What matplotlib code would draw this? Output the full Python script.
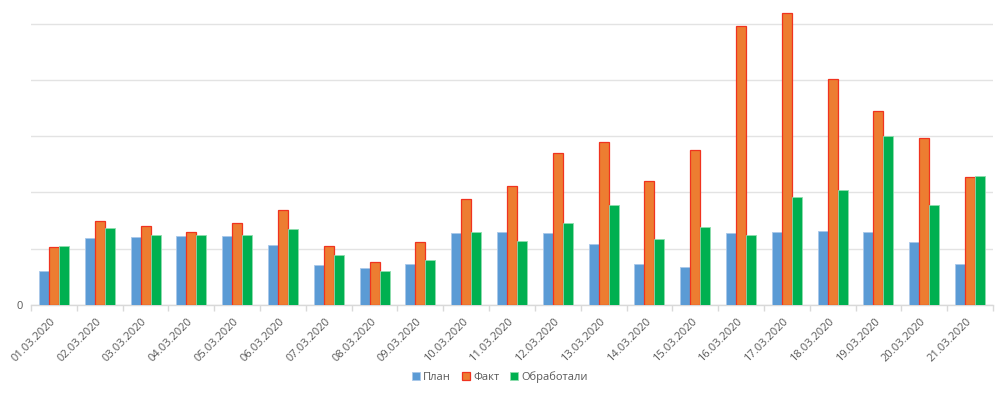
import matplotlib.pyplot as plt
import numpy as np

# Data (one gridline = 100 units)
dates = ['01.03.2020', '02.03.2020', '03.03.2020', '04.03.2020', '05.03.2020',
         '06.03.2020', '07.03.2020', '08.03.2020', '09.03.2020', '10.03.2020',
         '11.03.2020', '12.03.2020', '13.03.2020', '14.03.2020', '15.03.2020',
         '16.03.2020', '17.03.2020', '18.03.2020', '19.03.2020', '20.03.2020',
         '21.03.2020']
plan = [60, 118, 120, 122, 122, 106, 71, 65, 73, 127, 129, 127, 109, 73, 67,
        127, 129, 131, 129, 111, 73]
fact = [102, 150, 141, 130, 145, 168, 105, 76, 111, 189, 212, 270, 290, 220, 275,
        496, 519, 402, 345, 297, 227]
done = [105, 136, 125, 125, 125, 134, 89, 60, 80, 130, 114, 146, 178, 117, 138,
        125, 191, 205, 300, 178, 230]

plt.rcParams['font.family'] = ['Open Sans', 'DejaVu Sans']

fig = plt.figure(figsize=(10, 3.95), dpi=100)
ax = fig.add_axes([0.031, 0.2286, 0.962, 0.746])

x = np.arange(len(dates))
w = 0.218
ax.bar(x - w, plan, w, color='#5B9BD5', edgecolor='#A9C8EA', linewidth=0.6, label='План', zorder=3)
ax.bar(x, fact, w, color='#ED7D31', edgecolor='#F0331F', linewidth=0.9, label='Факт', zorder=3)
ax.bar(x + w, done, w, color='#00B050', edgecolor='#8FDDAE', linewidth=0.6, label='Обработали', zorder=3)

ax.set_xlim(-0.5, len(dates) - 0.5)
ax.set_ylim(0, 525)

# horizontal gridlines
ax.set_yticks([0, 100, 200, 300, 400, 500])
ax.set_yticklabels(['0', '', '', '', '', ''])
ax.yaxis.grid(True, color='#E3E3E3', linewidth=1.0, zorder=0)
ax.tick_params(axis='y', length=0, labelsize=8, labelcolor='#595959', pad=6)

# x axis: labels at centers, tick marks at category boundaries
ax.set_xticks(x)
ax.set_xticklabels(dates, rotation=45, ha='right', va='center', rotation_mode='anchor')
ax.tick_params(axis='x', which='major', length=0, labelsize=8, labelcolor='#595959', pad=11)
ax.set_xticks(np.arange(-0.5, len(dates)), minor=True)
ax.tick_params(axis='x', which='minor', length=4, color='#D9D9D9', width=1)

for s in ['top', 'right', 'left']:
    ax.spines[s].set_visible(False)
ax.spines['bottom'].set_color('#D9D9D9')
ax.spines['bottom'].set_linewidth(1.0)

fig.legend(loc='center', bbox_to_anchor=(0.5, 0.045), ncol=3, frameon=False,
           fontsize=8, labelcolor='#595959', handlelength=0.7, handleheight=0.7,
           handletextpad=0.3, columnspacing=1.0)

plt.savefig('out.png')
